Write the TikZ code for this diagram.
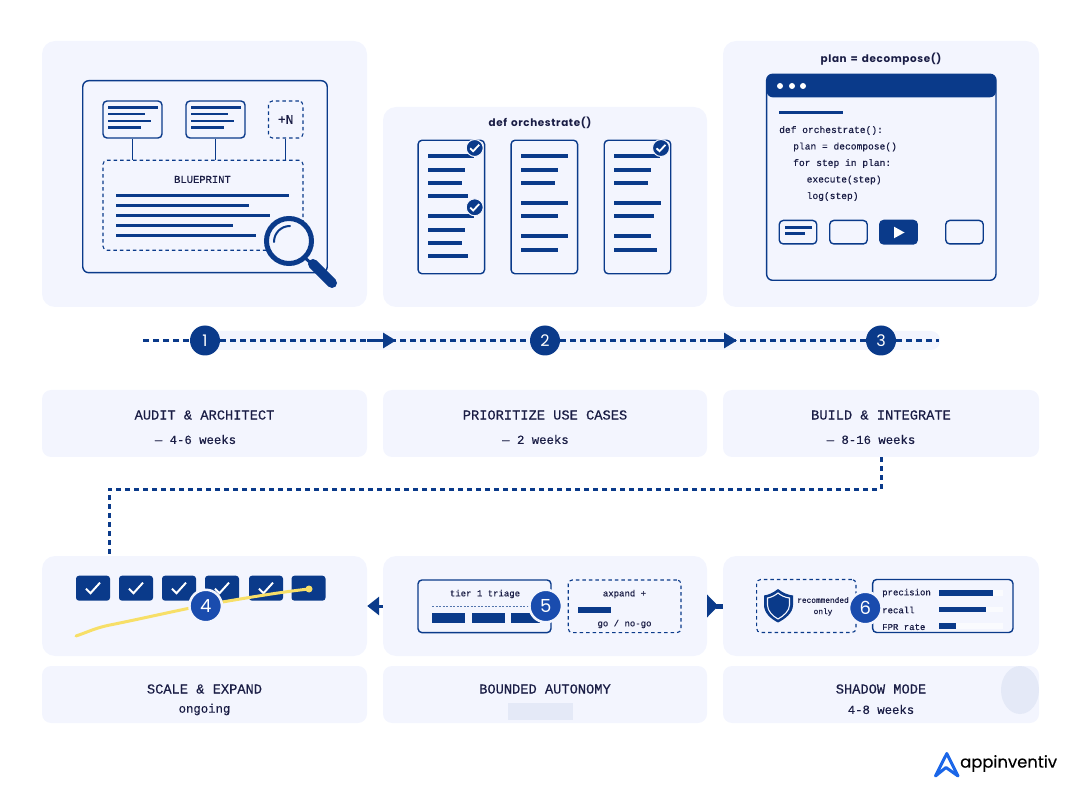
\documentclass[tikz,border=0pt]{standalone}
\usepackage{fontspec}
\usetikzlibrary{arrows.meta}
\setmainfont{Poppins}
\newfontfamily\codefont[FakeBold=0.35]{Liberation Mono}
\newfontfamily\titlefont[LetterSpace=6,WordSpace=1.4]{Poppins}
\newfontfamily\logofont[FakeBold=0.25]{Poppins}
\definecolor{navy}{HTML}{0A3A8A}
\definecolor{badgeblue}{HTML}{1A4CAE}
\definecolor{cardbg}{HTML}{F3F5FE}
\definecolor{ink}{HTML}{1A1D45}
\definecolor{patch}{HTML}{E4E9F7}
\definecolor{sun}{HTML}{F7DF68}
\definecolor{logoblue}{HTML}{1B66E8}
\tikzset{
  card/.style={fill=cardbg, rounded corners=13pt, inner sep=0pt},
  labelcard/.style={fill=cardbg, rounded corners=9pt, inner sep=0pt},
  frame/.style={draw=navy, line width=1.4pt, rounded corners=4pt, inner sep=0pt},
  dashframe/.style={draw=navy, line width=1.1pt, dash pattern=on 3.5pt off 3pt, rounded corners=4pt, inner sep=0pt},
  bar/.style={draw=navy, line width=#1},
  bar/.default=3pt,
  badge/.style={circle, fill=navy, text=white, minimum size=30pt, inner sep=0pt, font=\fontsize{16}{16}\selectfont},
  ringbadge/.style={circle, fill=badgeblue, draw=cardbg, line width=2.5pt, text=white, minimum size=32.5pt, inner sep=0pt, font=\fontsize{18}{18}\selectfont},
  headtxt/.style={text=ink, font=\codefont\fontsize{13.7}{16}\selectfont},
  subtxt/.style={text=ink, font=\codefont\fontsize{12.3}{14}\selectfont},
  codetxt/.style={text=ink, anchor=west, inner sep=0pt, font=\codefont\fontsize{9.6}{12}\selectfont},
  smalltxt/.style={text=ink, inner sep=0pt, font=\codefont\fontsize{9}{11}\selectfont},
  titletxt/.style={text=ink, font=\titlefont\bfseries\fontsize{10.4}{12}\selectfont},
  dotline/.style={draw=navy, line width=2.7pt, dash pattern=on 5.5pt off 4.5pt},
  flowline/.style={draw=navy, line width=3pt, -{Triangle[length=13pt,width=15pt]}},
  tick/.pic={\draw[white, line width=2pt] (-7,0.5) -- (-2.5,5) -- (7,-5.5);},
  smalltick/.pic={\draw[white, line width=1.8pt] (-4.5,0.3) -- (-1.5,3.2) -- (4.5,-3.2);}
}
\begin{document}
\begin{tikzpicture}[x=1pt,y=-1pt]
  \useasboundingbox (0,0) rectangle (1080,802);

  % Cards
  \node[card, minimum width=325pt, minimum height=266pt] (cardA) at (204.5,174) {};
  \node[card, minimum width=324pt, minimum height=200pt] (cardB) at (545,207) {};
  \node[card, minimum width=316pt, minimum height=266pt] (cardC) at (881,174) {};
  \node[card, minimum width=325pt, minimum height=100pt] (cardD) at (204.5,606) {};
  \node[card, minimum width=324pt, minimum height=100pt] (cardE) at (545,606) {};
  \node[card, minimum width=316pt, minimum height=100pt] (cardF) at (881,606) {};

  % Captions
  \node[labelcard, minimum width=325pt, minimum height=67pt] (capA) at (204.5,423.5) {};
  \node[labelcard, minimum width=324pt, minimum height=67pt] (capB) at (545,423.5) {};
  \node[labelcard, minimum width=316pt, minimum height=67pt] (capC) at (881,423.5) {};
  \node[labelcard, minimum width=325pt, minimum height=57pt] (capD) at (204.5,694.5) {};
  \node[labelcard, minimum width=324pt, minimum height=57pt] (capE) at (545,694.5) {};
  \node[labelcard, minimum width=316pt, minimum height=57pt] (capF) at (881,694.5) {};
  \fill[patch] (508,703) rectangle (573,720);
  \fill[patch] (1020,690) ellipse[x radius=19, y radius=24];

  \node[headtxt] (headA) at (204.5,415) {AUDIT \& ARCHITECT};
  \node[subtxt] (subA) at (195.5,439.5) {— 4-6 weeks};
  \node[headtxt] (headB) at (545,415) {PRIORITIZE USE CASES};
  \node[subtxt] (subB) at (535.5,439.5) {— 2 weeks};
  \node[headtxt] (headC) at (881,415) {BUILD \& INTEGRATE};
  \node[subtxt] (subC) at (871,439.5) {— 8-16 weeks};
  \node[headtxt] (headD) at (204.5,689) {SCALE \& EXPAND};
  \node[subtxt] (subD) at (204.5,709.5) {ongoing};
  \node[headtxt] (headE) at (545,689) {BOUNDED AUTONOMY};
  \node[headtxt] (headF) at (881,689) {SHADOW MODE};
  \node[subtxt] (subF) at (881,709.5) {4-8 weeks};

  % Timeline
  \node[fill=cardbg, rounded corners=9pt, minimum width=735pt, minimum height=19pt, inner sep=0pt] (band) at (572.5,340.5) {};
  \node[badge] (stepA) at (205,340.5) {1};
  \node[badge] (stepB) at (545,340.5) {2};
  \node[badge] (stepC) at (881,340.5) {3};
  \coordinate (lineL) at (143,340.5);
  \coordinate (lineR) at (939,340.5);
  \coordinate (tailAB) at (367,340.5);
  \coordinate (tipAB) at (396,340.5);
  \coordinate (tailBC) at (708,340.5);
  \coordinate (tipBC) at (737,340.5);
  \draw[dotline] (lineL) -- (stepA);
  \draw[dotline] (stepA) -- (stepB);
  \draw[dotline] (stepB) -- (stepC);
  \draw[dotline] (stepC) -- (lineR);
  \draw[flowline] (tailAB) -- (tipAB);
  \draw[flowline] (tailBC) -- (tipBC);

  % Link down to the second row
  \draw[dotline, line width=3pt, dash pattern=on 5pt off 4pt] (capC.south) -- ++(0,32) -| (cardD.north -| 109,556);

  % Blueprint panel
  \node[frame, minimum width=244.5pt, minimum height=192pt, rounded corners=6pt] (sheet) at (205,176.7) {};
  \node[frame, minimum width=59pt, minimum height=37pt] (srcA) at (132.5,119.5) {};
  \node[frame, minimum width=59pt, minimum height=37pt] (srcB) at (215.5,119.5) {};
  \node[dashframe, minimum width=34.5pt, minimum height=37pt, text=ink, font=\codefont\fontsize{13}{15}\selectfont] (srcN) at (285.7,119.5) {+N};
  \node[dashframe, minimum width=200pt, minimum height=90pt] (blueprint) at (203,205.3) {};
  \draw[navy, line width=1.2pt] (srcA.south) -- (srcA.south |- blueprint.north);
  \draw[navy, line width=1.2pt] (srcB.south) -- (srcB.south |- blueprint.north);
  \draw[navy, line width=1.2pt] (srcN.south) -- (srcN.south |- blueprint.north);
  \foreach \dx in {0,83} {
    \foreach \y/\xend in {107.3/158,114/145,121/151,127.5/141} {
      \draw[bar=2.6pt] (108+\dx,\y) -- (\xend+\dx,\y);
    }
  }
  \node[text=ink, font=\codefont\fontsize{10.5}{12}\selectfont] (blueTitle) at (202.5,179.5) {BLUEPRINT};
  \foreach \y/\xend in {195.5/288.5,205.5/249,215.5/270,225.5/233,235.5/256} {
    \draw[bar=2.5pt] (116,\y) -- (\xend,\y);
  }

  % Magnifier
  \draw[navy, line width=5pt, fill=cardbg] (289,241) circle[radius=22.5];
  \draw[navy, line width=2pt, line cap=round] (274,242) .. controls (274,233) and (281,226) .. (290,226);
  \draw[navy, line width=3pt] (304,257) -- (312,264);
  \draw[navy, line width=10pt, line cap=round] (313,264) -- (332,283);

  % Checklists
  \node[titletxt] (titleB) at (540,122.5) {def orchestrate()};
  \node[frame, minimum width=66.5pt, minimum height=133.5pt] (docA) at (451.3,207) {};
  \node[frame, minimum width=66.5pt, minimum height=133.5pt] (docB) at (544.3,207) {};
  \node[frame, minimum width=66.5pt, minimum height=133.5pt] (docC) at (637.5,207) {};
  \foreach \y/\xend in {156.3/474,169.7/465,183/461.5,196.3/468,216.5/474,230/465,243/462,256.3/468} {
    \draw[bar=4pt] (428,\y) -- (\xend,\y);
  }
  \foreach \y/\xend in {156.3/568,169.7/557.5,183/554.5,203/568,216.5/557.5,236.3/568,249.7/557.5} {
    \draw[bar=4pt] (521,\y) -- (\xend,\y);
  }
  \foreach \y/\xend in {156.3/660,169.7/651,183/648,203/661,216.5/653.5,236.3/651,249.7/657} {
    \draw[bar=4pt] (614,\y) -- (\xend,\y);
  }
  \foreach \x/\y in {474.7/148,474.7/207.3,661/148} {
    \fill[navy, draw=cardbg, line width=1pt] (\x,\y) circle[radius=8.5];
    \pic at (\x,\y) {smalltick};
  }

  % Code window
  \node[titletxt] (titleC) at (881,59.5) {plan = decompose()};
  \node[frame, minimum width=229.3pt, minimum height=206pt, rounded corners=6pt] (window) at (881.3,177.3) {};
  \fill[navy, rounded corners=6pt] (766.7,74.3) rectangle (996,97.3);
  \foreach \x in {780,792,803} {
    \fill[white] (\x,86) circle[radius=3];
  }
  \draw[bar=3pt] (779,112.7) -- (843,112.7);
  \node[codetxt] (codeA) at (779,130.5) {def orchestrate():};
  \node[codetxt] (codeB) at (793,147) {plan = decompose()};
  \node[codetxt] (codeC) at (793,163.5) {for step in plan:};
  \node[codetxt] (codeD) at (806.5,180) {execute(step)};
  \node[codetxt] (codeE) at (806.5,196.5) {log(step)};
  \node[frame, minimum width=37.5pt, minimum height=23.5pt] (btnA) at (798,232.2) {};
  \node[frame, minimum width=37.5pt, minimum height=23.5pt] (btnB) at (848.5,232.2) {};
  \node[frame, fill=navy, minimum width=37.5pt, minimum height=23.5pt] (btnC) at (898.5,232.2) {};
  \node[frame, minimum width=37.5pt, minimum height=23.5pt] (btnD) at (964.5,232.2) {};
  \draw[bar=2.5pt] (785,227.5) -- (811.5,227.5);
  \draw[bar=2.5pt] (785,233.5) -- (805,233.5);
  \fill[white] (894,226.7) -- (904.5,232.5) -- (894,238.3) -- cycle;

  % Rollout row
  \foreach \x in {76,119,162,205,249,291.5} {
    \fill[navy, rounded corners=3pt] (\x,575.7) rectangle (\x+34,600.7);
  }
  \foreach \x in {93,136,179,222,266} {
    \pic at (\x,588.2) {tick};
  }
  \draw[sun, line width=3pt, line cap=round] (76,636) .. controls (88,632) and (95,628) .. (110,625)
    .. controls (140,619) and (170,612) .. (205,605) .. controls (240,599) and (280,592) .. (309,589);
  \fill[sun] (309,589) circle[radius=3.5];
  \node[ringbadge] (stepD) at (205.7,606) {4};

  % Bounded row
  \node[frame, minimum width=133pt, minimum height=52.7pt] (triage) at (484.5,606.3) {};
  \node[smalltxt] (triageTxt) at (485,594) {tier 1 triage};
  \draw[navy!70, line width=0.7pt, dash pattern=on 2pt off 1.5pt] (432,606) -- (530,606);
  \foreach \xa/\xb in {431.5/465,471.5/504.5,511/540} {
    \fill[navy] (\xa,612.7) rectangle (\xb,623);
  }
  \node[dashframe, minimum width=112.7pt, minimum height=52.7pt] (expand) at (624.6,606.3) {};
  \node[smalltxt] (expandTxt) at (624.5,594) {axpand +};
  \draw[bar=6pt] (578,609.5) -- (611,609.5);
  \node[smalltxt] (goTxt) at (624.5,624) {go / no-go};
  \node[ringbadge] (stepE) at (545.7,606) {5};

  % Shadow row
  \node[dashframe, minimum width=99.3pt, minimum height=53pt] (recBox) at (806.3,606) {};
  \fill[navy] (778,589) .. controls (773,593) and (768,595) .. (764,595.5) -- (764,605)
    .. controls (764,613) and (771,619) .. (778,622.5) .. controls (785,619) and (793,613) .. (793,605)
    -- (793,595.5) .. controls (788,595) and (783,593) .. (778,589) -- cycle;
  \draw[cardbg, line width=1.1pt] (778,593) .. controls (775,595.5) and (771,597.5) .. (767.5,598) -- (767.5,605)
    .. controls (767.5,611) and (772.5,616) .. (778,619) .. controls (783.5,616) and (789.5,611) .. (789.5,605)
    -- (789.5,598) .. controls (785,597.5) and (781,595.5) .. (778,593) -- cycle;
  \node[smalltxt, font=\codefont\fontsize{7.8}{9}\selectfont] (recTxtA) at (823,600) {recommended};
  \node[smalltxt, font=\codefont\fontsize{7.8}{9}\selectfont] (recTxtB) at (823,612) {only};
  \node[frame, minimum width=140.3pt, minimum height=53pt] (metrics) at (942.8,606) {};
  \node[smalltxt, anchor=west] (precTxt) at (882,593) {precision};
  \node[smalltxt, anchor=west] (recallTxt) at (882,610) {recall};
  \node[smalltxt, anchor=west] (fprTxt) at (882,627) {FPR rate};
  \foreach \y/\xend in {593/992.5,609.3/986,626/956} {
    \fill[white!60!cardbg] (939,\y-2.8) rectangle (1003,\y+2.8);
    \fill[navy] (939,\y-2.8) rectangle (\xend,\y+2.8);
  }
  \node[ringbadge] (stepF) at (865.3,608) {6};

  % Flow back between the cards
  \draw[draw=navy, line width=3pt, -{Triangle[length=12pt,width=18pt]}] (cardE.west) -- (cardD.east);
  \draw[draw=navy, line width=5pt, -{Triangle[reversed,length=11pt,width=22pt]}] (cardF.west) -- (cardE.east);

  % Logo
  \draw[logoblue, line width=3pt, line join=round] (935.5,776) -- (946.8,753.5) -- (958,776) -- (946,767.5) -- cycle;
  \node[anchor=west, inner sep=0pt, text=black, font=\logofont\fontsize{16.4}{18}\selectfont] (logoTxt) at (960,763.5) {appinventiv};
\end{tikzpicture}
\end{document}
